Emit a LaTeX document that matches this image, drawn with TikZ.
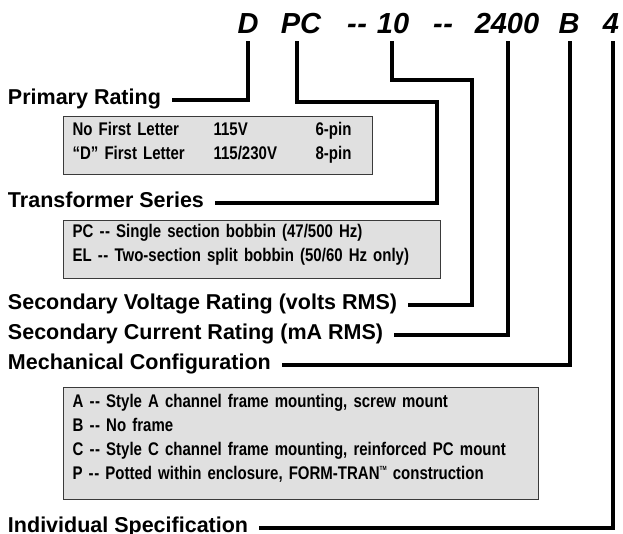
\documentclass[tikz,border=0pt]{standalone}
\usepackage{fontspec}
\setmainfont{Liberation Sans}
\newfontfamily\narrowfont[FakeStretch=0.82,WordSpace=0.8]{Liberation Sans}
\definecolor{boxgray}{HTML}{E0E0E0}
\definecolor{boxline}{HTML}{3A3A3A}
\newcommand{\dd}{-\kern0.6pt-}

\begin{document}
\begin{tikzpicture}[x=1pt,y=-1pt,
  code/.style={font=\fontsize{29}{30}\selectfont\bfseries\itshape, anchor=base, inner sep=0pt, text height=20pt, text depth=8pt},
  field/.style={font=\fontsize{21.5}{24}\selectfont\bfseries, anchor=west, inner sep=0pt, outer xsep=11pt, text height=9pt, text depth=0pt},
  lead/.style={line width=4pt},
  infobox/.style={draw=boxline, line width=1.2pt, fill=boxgray, anchor=north west, inner xsep=9pt, inner ysep=0pt, align=left, font=\narrowfont\fontsize{18.3}{24}\selectfont\bfseries}]
\useasboundingbox (0,0) rectangle (623,533);

% part number
\node[code] (dcode) at (248,33) {D};
\node[code] (pc) at (301,33) {PC};
\node[code] (dash1) at (357,33) {\dd};
\node[code] (ten) at (393,33) {10};
\node[code] (dash2) at (443,33) {\dd};
\node[code] (twofour) at (507,33) {2400};
\node[code] (bcode) at (569,33) {B};
\node[code] (four) at (611,33) {4};

% fields
\node[field] (prim) at (-3,100) {Primary Rating};
\node[field] (series) at (-3,203) {Transformer Series};
\node[field] (secvolt) at (-3,305) {Secondary Voltage Rating (volts RMS)};
\node[field] (seccur) at (-3,335) {Secondary Current Rating (mA RMS)};
\node[field] (mech) at (-3,365) {Mechanical Configuration};
\node[field] (indiv) at (-3,528) {Individual Specification};

% option boxes
\node[infobox, text width=291pt, text height=19pt, text depth=39pt] (ratingbox) at (63,116)
  {\makebox[141pt][l]{No First Letter}\makebox[102pt][l]{115V}6-pin\\
   \makebox[141pt][l]{“D” First Letter}\makebox[102pt][l]{115/230V}8-pin};
\node[infobox, text width=359pt, text height=17pt, text depth=41pt] (seriesbox) at (63,220)
  {PC \dd{} Single section bobbin (47/500 Hz)\\
   EL \dd{} Two-section split bobbin (50/60 Hz only)};
\node[infobox, text width=457pt, text height=20pt, text depth=92pt] (mechbox) at (63,387)
  {A \dd{} Style A channel frame mounting, screw mount\\
   B \dd{} No frame\\
   C \dd{} Style C channel frame mounting, reinforced PC mount\\
   P \dd{} Potted within enclosure, FORM-TRAN\raisebox{9pt}{\fontsize{6}{6}\selectfont TM}\ construction};

% leads
\draw[lead] (dcode.south) |- (prim.east);
\draw[lead] ([xshift=-4pt]pc.south) |- (437,102) |- (series.east);
\draw[lead] ([xshift=-1pt]ten.south) |- (472,80) |- (secvolt.east);
\draw[lead] ([xshift=1pt]twofour.south) |- (seccur.east);
\draw[lead] ([xshift=1pt]bcode.south) |- (mech.east);
\draw[lead] ([xshift=2pt]four.south) |- (indiv.east);
\end{tikzpicture}
\end{document}
